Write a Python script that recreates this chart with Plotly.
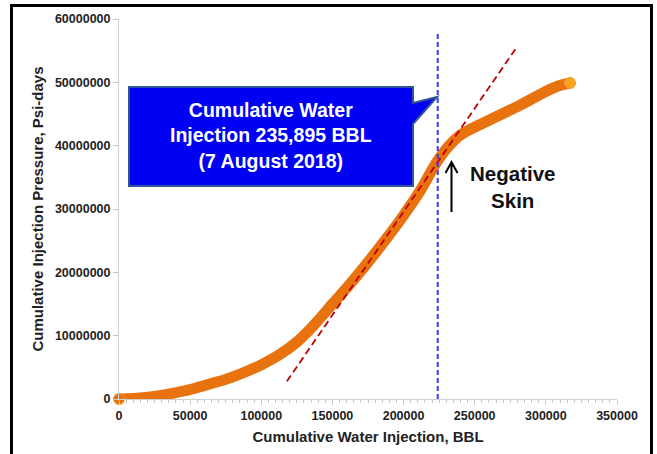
import plotly.graph_objects as go

# ---- data ----
cum_water_bbl = [0, 12500, 25000, 37500, 50000, 62500, 75000, 87500, 100000, 112500,
                 125000, 137500, 150000, 162500, 175000, 187500, 200000, 212000,
                 223000, 232000, 240000, 258000, 282000, 305000, 317000]
cum_pressure = [0, 0.12e6, 0.42e6, 0.9e6, 1.5e6, 2.3e6, 3.1e6, 4.15e6, 5.4e6, 6.95e6,
                9.0e6, 11.8e6, 15.0e6, 18.2e6, 21.6e6, 25.2e6, 29.0e6, 33.0e6,
                37.3e6, 40.0e6, 41.7e6, 43.8e6, 46.4e6, 49.1e6, 49.9e6]
trend_x = [118000, 280000]
trend_y = [2.8e6, 55.7e6]
marker_date_x = [224000, 224000]
marker_date_y = [0, 57.9e6]

x_range = [0, 350000]
y_range = [0, 60000000]

callout_lines = ["Cumulative Water", "Injection 235,895 BBL", "(7 August 2018)"]
skin_lines = ["Negative", "Skin"]
x_title = "Cumulative Water Injection, BBL"
y_title = "Cumulative Injection Pressure, Psi-days"

# ---- layout geometry (pixels) ----
W, H = 657, 454
L, R, T, B = 119, 617, 19, 399


def px(xp):
    return (xp - L) / (R - L)


def py(yp):
    return (B - yp) / (B - T)


FONT = "Liberation Sans, Arial, sans-serif"
ORANGE = "#E8730E"

fig = go.Figure()

fig.add_trace(go.Scatter(
    x=cum_water_bbl, y=cum_pressure, mode="lines",
    line=dict(color=ORANGE, width=11, shape="spline", smoothing=1.0),
    hoverinfo="skip", showlegend=False, cliponaxis=False))
fig.add_trace(go.Scatter(
    x=[cum_water_bbl[0], cum_water_bbl[-1]], y=[cum_pressure[0], cum_pressure[-1]],
    mode="markers",
    marker=dict(size=11, color=[ORANGE, "#F9A41C"], line=dict(color="#F29A3E", width=1)),
    hoverinfo="skip", showlegend=False, cliponaxis=False))

fig.add_trace(go.Scatter(
    x=trend_x, y=trend_y, mode="lines",
    line=dict(color="#C00000", width=1.8, dash="7px,4px"),
    hoverinfo="skip", showlegend=False, cliponaxis=False))

fig.add_trace(go.Scatter(
    x=marker_date_x, y=marker_date_y, mode="lines",
    line=dict(color="#3A3AFF", width=2, dash="5px,3px"),
    hoverinfo="skip", showlegend=False, cliponaxis=False))

shapes = []
# outer frame
shapes.append(dict(type="rect", xref="paper", yref="paper",
                   x0=px(11.5), x1=px(651.5), y0=py(470), y1=py(5.5),
                   line=dict(color="black", width=3), fillcolor="rgba(0,0,0,0)", layer="above"))
# callout box with pointer
pts = [(129, 87), (413, 87), (413, 103), (437, 97), (413, 124), (413, 186), (129, 186)]
path = "M " + " L ".join(f"{px(a):.5f},{py(b):.5f}" for a, b in pts) + " Z"
shapes.append(dict(type="path", xref="paper", yref="paper", path=path,
                   fillcolor="#0000F5", line=dict(color="#2F5597", width=2), layer="above"))
# arrow for negative skin
ax0, ay0, ay1 = 451.5, 212, 162
apath = (f"M {px(ax0):.5f},{py(ay0):.5f} L {px(ax0):.5f},{py(ay1):.5f} "
         f"M {px(ax0-6):.5f},{py(ay1+11):.5f} L {px(ax0):.5f},{py(ay1):.5f} "
         f"L {px(ax0+6):.5f},{py(ay1+11):.5f}")
shapes.append(dict(type="path", xref="paper", yref="paper", path=apath,
                   line=dict(color="black", width=2), layer="above"))

annotations = [
    dict(xref="paper", yref="paper", x=px(271), y=py(135),
         text="<br>".join(callout_lines), showarrow=False,
         font=dict(family=FONT, size=19.5, color="white", weight="bold"),
         xanchor="center", yanchor="middle", align="center"),
    dict(xref="paper", yref="paper", x=px(512), y=py(187),
         text="<br>".join(skin_lines), showarrow=False,
         font=dict(family=FONT, size=20.5, color="#111111", weight="bold"),
         xanchor="center", yanchor="middle", align="center"),
]

axis_common = dict(
    showgrid=False, zeroline=False, showline=True, linecolor="#D0D0D0", linewidth=1,
    ticks="outside", tickcolor="#C8C8C8", ticklen=5, tickwidth=1,
    tickfont=dict(family=FONT, size=12.5, color="#222222", weight="bold"),
    tickformat="d",
)

fig.update_layout(
    width=W, height=H,
    margin=dict(l=L, r=W - R, t=T, b=H - B, autoexpand=False),
    paper_bgcolor="white", plot_bgcolor="white",
    xaxis=dict(range=x_range, dtick=50000, tick0=0,
               minor=dict(dtick=5000, ticks="outside", ticklen=3, tickcolor="#C8C8C8"),
               title=dict(text=x_title, standoff=9,
                          font=dict(family=FONT, size=15, color="#222222", weight="bold")),
               **axis_common),
    yaxis=dict(range=y_range, dtick=10000000, tick0=0,
               title=dict(text=y_title, standoff=7,
                          font=dict(family=FONT, size=15, color="#222222", weight="bold")),
               **axis_common),
    shapes=shapes, annotations=annotations, showlegend=False,
)

fig.write_html("out.html", config={"displayModeBar": False},
               post_script="document.body.style.margin='0';document.body.style.overflow='hidden';")
